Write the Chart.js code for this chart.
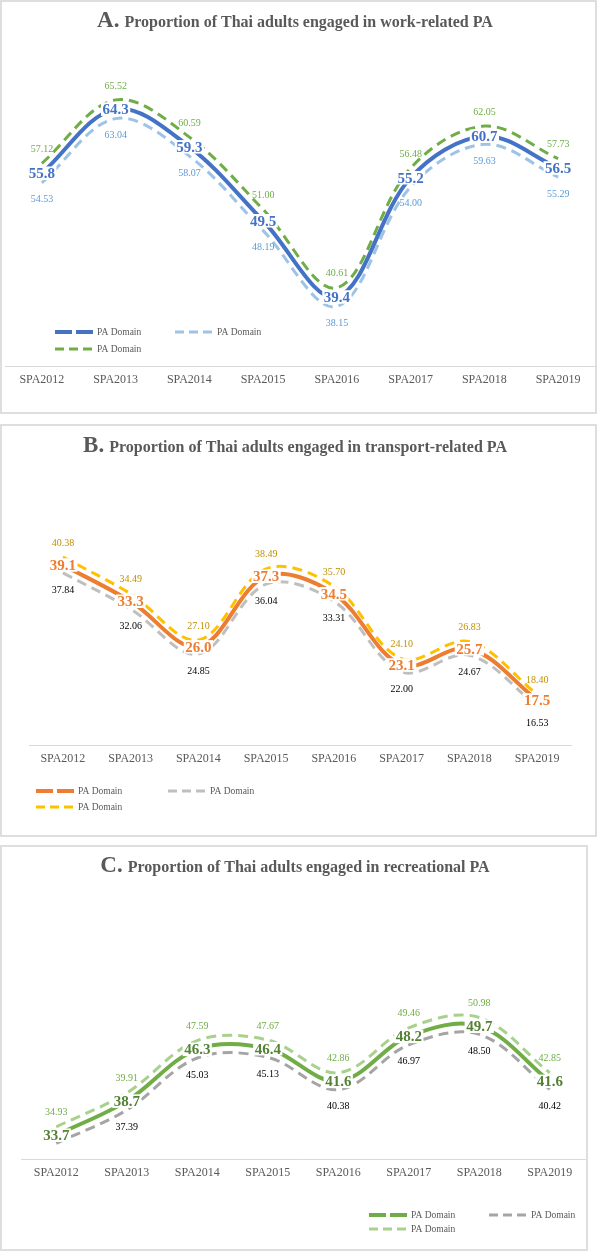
<!DOCTYPE html>
<html><head><meta charset="utf-8">
<script src="https://cdn.jsdelivr.net/npm/chart.js@4.4.1/dist/chart.umd.min.js"></script>
<style>
html,body{margin:0;padding:0;background:#fff;}
body{width:597px;height:1252px;position:relative;overflow:hidden;}
.panel{position:absolute;border:2px solid #dedede;box-sizing:border-box;}
canvas{position:absolute;left:0;}
</style></head><body>
<div class="panel" style="left:0;top:0;width:597px;height:414px"></div>
<div class="panel" style="left:0;top:424px;width:597px;height:413px"></div>
<div class="panel" style="left:0;top:845px;width:588px;height:406px"></div>
<canvas id="cA" style="top:0" width="597" height="413"></canvas>
<canvas id="cB" style="top:425px" width="597" height="411"></canvas>
<canvas id="cC" style="top:846px" width="597" height="404"></canvas>
<script>
// ---- data ----
const years = ['SPA2012','SPA2013','SPA2014','SPA2015','SPA2016','SPA2017','SPA2018','SPA2019'];
const seriesName = 'PA Domain';
const titleA = ['A.', 'Proportion of Thai adults engaged in work-related PA'];
const titleB = ['B.', 'Proportion of Thai adults engaged in transport-related PA'];
const titleC = ['C.', 'Proportion of Thai adults engaged in recreational PA'];
const workMain  = [55.8, 64.3, 59.3, 49.5, 39.4, 55.2, 60.7, 56.5];
const workLower = [54.53, 63.04, 58.07, 48.19, 38.15, 54.00, 59.63, 55.29];
const workUpper = [57.12, 65.52, 60.59, 51.00, 40.61, 56.48, 62.05, 57.73];
const transMain  = [39.1, 33.3, 26.0, 37.3, 34.5, 23.1, 25.7, 17.5];
const transLower = [37.84, 32.06, 24.85, 36.04, 33.31, 22.00, 24.67, 16.53];
const transUpper = [40.38, 34.49, 27.10, 38.49, 35.70, 24.10, 26.83, 18.40];
const recMain  = [33.7, 38.7, 46.3, 46.4, 41.6, 48.2, 49.7, 41.6];
const recLower = [32.5, 37.39, 45.03, 45.13, 40.38, 46.97, 48.50, 40.42];
const recUpper = [34.93, 39.91, 47.59, 47.67, 42.86, 49.46, 50.98, 42.85];

const SERIF = '"Liberation Serif", "Times New Roman", serif';

// ---- plugins ----
const titlePlugin = {
  id: 'panelTitle',
  afterDraw(chart, args, o) {
    const ctx = chart.ctx; ctx.save();
    ctx.fillStyle = o.color; ctx.textBaseline = 'alphabetic'; ctx.textAlign = 'left';
    const f1 = `${o.prefixWeight} ${o.prefixSize}px ${SERIF}`;
    const f2 = `bold ${o.size}px ${SERIF}`;
    ctx.font = f1; const w1 = ctx.measureText(o.parts[0]).width;
    ctx.font = f2; const w2 = ctx.measureText(o.parts[1]).width;
    const x0 = o.cx - (w1 + o.gap + w2) / 2;
    ctx.font = f1; ctx.fillText(o.parts[0], x0, o.y);
    ctx.font = f2; ctx.fillText(o.parts[1], x0 + w1 + o.gap, o.y);
    ctx.restore();
  }
};

const labelPlugin = {
  id: 'valueLabels',
  afterDatasetsDraw(chart) {
    const ctx = chart.ctx; ctx.save();
    ctx.textAlign = 'center'; ctx.textBaseline = 'middle';
    chart.data.datasets.forEach((ds, di) => {
      const meta = chart.getDatasetMeta(di);
      const L = ds.valueLabel; if (!L) return;
      ctx.font = `${L.weight} ${L.size}px ${SERIF}`;
      meta.data.forEach((pt, i) => {
        if (L.skip && L.skip.includes(i)) return;
        const txt = ds.data[i].toFixed(L.decimals);
        const x = pt.x, y = pt.y + L.dy;
        if (L.bg) {
          const w = ctx.measureText(txt).width + 3;
          ctx.fillStyle = L.bg; ctx.fillRect(x - w / 2, y - L.size * 0.45, w, L.size * 0.9);
        }
        ctx.fillStyle = L.color; ctx.fillText(txt, x, y + 1);
      });
    });
    ctx.restore();
  }
};

const legendPlugin = {
  id: 'boxLegend',
  afterDraw(chart, args, o) {
    const ctx = chart.ctx; ctx.save();
    chart.data.datasets.forEach((ds, i) => {
      const p = o.pos[i];
      ctx.beginPath();
      ctx.setLineDash(ds.legendDash);
      ctx.lineWidth = ds.borderWidth; ctx.strokeStyle = ds.borderColor; ctx.lineCap = 'butt';
      ctx.moveTo(p[0], p[1]); ctx.lineTo(p[0] + 38, p[1]); ctx.stroke();
      ctx.setLineDash([]);
      ctx.fillStyle = o.color; ctx.font = `${o.size}px ${SERIF}`;
      ctx.textAlign = 'left'; ctx.textBaseline = 'middle';
      ctx.fillText(ds.label, p[0] + 42, p[1] + 0.5);
    });
    ctx.restore();
  }
};

function makeChart(id, cfg) {
  const mainLbl = {weight: 'bold', size: 15, decimals: 1, dy: 0, color: cfg.mainText, bg: '#ffffff'};
  const datasets = [
    {label: seriesName, data: cfg.main, borderColor: cfg.mainColor, borderWidth: 4,
     legendDash: [17, 4], valueLabel: mainLbl},
    {label: seriesName, data: cfg.lower, borderColor: cfg.lowerColor, borderWidth: 3, borderDash: [10, 6],
     legendDash: [9, 5], valueLabel: {weight: 'normal', size: 10, decimals: 2, dy: 16, color: cfg.lowerText, skip: cfg.lowerSkip}},
    {label: seriesName, data: cfg.upper, borderColor: cfg.upperColor, borderWidth: 3, borderDash: [10, 6],
     legendDash: [9, 5], valueLabel: {weight: 'normal', size: 10, decimals: 2, dy: -15, color: cfg.upperText}}
  ];
  datasets.forEach(d => { d.fill = false; d.pointRadius = 0; d.tension = 0.35; d.borderCapStyle = 'butt'; });
  return new Chart(document.getElementById(id), {
    type: 'line',
    data: {labels: years, datasets},
    plugins: [titlePlugin, labelPlugin, legendPlugin],
    options: {
      responsive: false, animation: false, devicePixelRatio: 1,
      layout: {padding: cfg.pad},
      scales: {
        x: {type: 'category', offset: true,
            grid: {display: false, drawTicks: false},
            border: {display: true, color: '#d9d9d9', width: 1},
            ticks: {font: {family: SERIF, size: 12}, color: '#595959', padding: 7, maxRotation: 0, autoSkip: false},
            afterFit: s => { s.height = 30; }},
        y: {display: false, min: cfg.min, max: cfg.max}
      },
      plugins: {
        legend: {display: false}, tooltip: {enabled: false},
        panelTitle: {parts: cfg.title, color: '#595959', prefixSize: 23, prefixWeight: 'bold', size: 16, gap: 5, cx: 295, y: cfg.titleY},
        boxLegend: {pos: cfg.legend, color: '#595959', size: 9.5}
      }
    }
  });
}

makeChart('cA', {
  main: workMain, lower: workLower, upper: workUpper, title: titleA, titleY: 27,
  mainColor: '#4472C4', mainText: '#4472C4', lowerColor: '#9DC3E6', lowerText: '#5B9BD5',
  upperColor: '#70AD47', upperText: '#70AD47',
  min: 30.25, max: 72, pad: {top: 51, bottom: 17, left: 5, right: 2},
  legend: [[55, 332], [175, 332], [55, 349]]
});
makeChart('cB', {
  main: transMain, lower: transLower, upper: transUpper, title: titleB, titleY: 27,
  mainColor: '#ED7D31', mainText: '#ED7D31', lowerColor: '#BFBFBF', lowerText: '#000000',
  upperColor: '#FFC000', upperText: '#BF9000',
  min: 10.3, max: 54.3, pad: {top: 45, bottom: 61, left: 29, right: 26},
  legend: [[36, 366], [168, 366], [36, 382]]
});
makeChart('cC', {
  main: recMain, lower: recLower, upper: recUpper, title: titleC, titleY: 26, lowerSkip: [0],
  mainColor: '#70AD47', mainText: '#548235', lowerColor: '#A5A5A5', lowerText: '#000000',
  upperColor: '#A9D18E', upperText: '#70AD47',
  min: 30.2, max: 68.23, pad: {top: 54, bottom: 61, left: 21, right: 12},
  legend: [[369, 369], [489, 369], [369, 383]]
});
</script>
</body></html>
